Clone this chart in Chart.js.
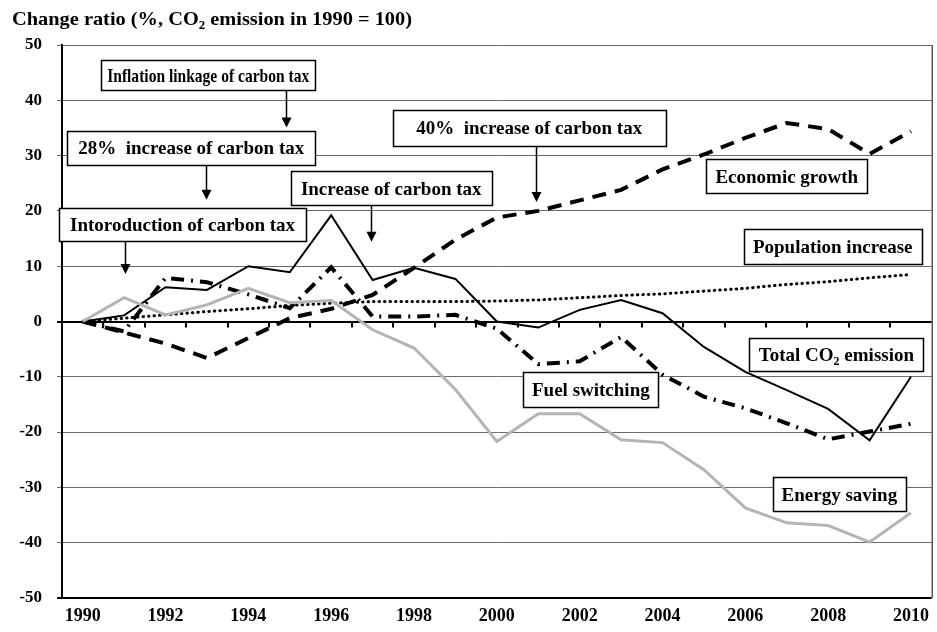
<!DOCTYPE html>
<html>
<head>
<meta charset="utf-8">
<script src="https://cdn.jsdelivr.net/npm/chart.js@4.4.1/dist/chart.umd.min.js"></script>
<style>
  html, body { margin: 0; padding: 0; background: #fff; }
  #chart { display: block; }
</style>
</head>
<body>
<canvas id="chart" width="937" height="632"></canvas>
<script>
// values (1990 = 0)
const years = ['1990', '1991', '1992', '1993', '1994', '1995', '1996', '1997', '1998', '1999', '2000',
    '2001', '2002', '2003', '2004', '2005', '2006', '2007', '2008', '2009', '2010'];
const totalCO2 = [0, 1.1, 6.2, 5.7, 10, 8.9, 19.2, 7.5, 9.7, 7.7, 0, -1.1, 2.1, 3.9, 1.5, -4.6, -9.1, -12.4, -15.8, -21.5, -10];
const economicGrowth = [0, -2, -4, -6.6, -3, 0.6, 2.3, 4.8, 9.7, 14.8, 18.8, 20, 21.9, 23.8, 27.5, 30.2, 33.2, 35.9, 34.8, 30.3, 34.4];
const populationIncrease = [0, 0.6, 1.2, 1.8, 2.3, 2.9, 3.3, 3.6, 3.6, 3.6, 3.7, 3.9, 4.3, 4.7, 5.0, 5.5, 6.0, 6.7, 7.2, 7.9, 8.5];
const fuelSwitching = [0, -1.8, 7.9, 7.1, 4.9, 2.4, 9.8, 0.9, 0.9, 1.2, -1.3, -7.7, -7.2, -2.8, -9.6, -13.6, -15.7, -18.4, -21.3, -19.9, -18.5];
const energySaving = [0, 4.3, 1.2, 3, 6, 3.4, 3.8, -1.5, -4.8, -12.3, -21.7, -16.7, -16.7, -21.4, -21.9, -26.8, -33.7, -36.4, -36.9, -39.9, -34.6];
const yTicks = { min: -50, max: 50, step: 10 };

const serif = "'Liberation Serif', 'Times New Roman', serif";

// labelled boxes: centre in (category index, value), size in px, optional arrow
const notes = [
    { parts: [{ t: 'Inflation linkage of carbon tax' }], cx: 3.03, cy: 44.5, w: 214, h: 30, arrow: { x: 4.9, to: 35.1 } },
    { parts: [{ t: '28%  increase of carbon tax' }], cx: 2.62, cy: 31.4, w: 248, h: 34, arrow: { x: 2.98, to: 22 } },
    { parts: [{ t: 'Intoroduction of carbon tax' }], cx: 2.41, cy: 17.6, w: 247, h: 33, arrow: { x: 1.01, to: 8.6 } },
    { parts: [{ t: 'Increase of carbon tax' }], cx: 7.45, cy: 24.1, w: 201, h: 34, arrow: { x: 6.96, to: 14.4 } },
    { parts: [{ t: '40%  increase of carbon tax' }], cx: 10.78, cy: 35, w: 273, h: 36, arrow: { x: 10.94, to: 21.6 } },
    { parts: [{ t: 'Economic growth' }], cx: 17.0, cy: 26.3, w: 161, h: 34 },
    { parts: [{ t: 'Population increase' }], cx: 18.11, cy: 13.6, w: 178, h: 35 },
    { parts: [{ t: 'Total CO' }, { t: '2', sub: true }, { t: ' emission' }], cx: 18.2, cy: -5.9, w: 174, h: 33 },
    { parts: [{ t: 'Fuel switching' }], cx: 12.27, cy: -12.3, w: 135, h: 35 },
    { parts: [{ t: 'Energy saving' }], cx: 18.27, cy: -31.2, w: 133, h: 34 },
];

function richWidth(ctx, parts, size) {
    let w = 0;
    parts.forEach(p => {
        ctx.font = `bold ${p.sub ? Math.round(size * 0.62) : size}px ${serif}`;
        w += ctx.measureText(p.t).width;
    });
    return w;
}

// draws text with subscripts; squeezed when too wide, or stretched to exactly `width` when fit is set
function drawRich(ctx, parts, x, y, size, width, align, fit) {
    const w = richWidth(ctx, parts, size);
    const sx = fit ? width / w : Math.min(1, width / w);
    ctx.save();
    ctx.translate(align === 'center' ? x - w * sx / 2 : x, y);
    ctx.scale(sx, 1);
    ctx.textAlign = 'left';
    ctx.textBaseline = 'alphabetic';
    ctx.fillStyle = '#000';
    let cur = 0;
    parts.forEach(p => {
        const s = p.sub ? Math.round(size * 0.62) : size;
        ctx.font = `bold ${s}px ${serif}`;
        ctx.fillText(p.t, cur, p.sub ? size * 0.22 : 0);
        cur += ctx.measureText(p.t).width;
    });
    ctx.restore();
}

const decorations = {
    id: 'decorations',
    afterDatasetsDraw(chart) {
        const { ctx, chartArea, scales: { x, y } } = chart;
        const step = (chartArea.right - chartArea.left) / years.length;

        // right frame line
        ctx.save();
        ctx.strokeStyle = '#000';
        ctx.lineWidth = 1;
        ctx.beginPath();
        ctx.moveTo(chartArea.right + 0.5, chartArea.top);
        ctx.lineTo(chartArea.right + 0.5, chartArea.bottom);
        ctx.stroke();

        // tick marks on the zero line between categories
        const y0 = y.getPixelForValue(0);
        ctx.lineWidth = 2;
        ctx.beginPath();
        for (let i = 1; i < years.length; i++) {
            const px = Math.round(x.getPixelForValue(i) - step / 2);
            ctx.moveTo(px, y0);
            ctx.lineTo(px, y0 + 6);
        }
        ctx.stroke();
        ctx.restore();

        // annotation boxes and arrows
        notes.forEach(n => {
            const cx = x.getPixelForValue(n.cx);
            const cy = y.getPixelForValue(n.cy);
            const left = Math.round(cx - n.w / 2) + 0.5;
            const top = Math.round(cy - n.h / 2) + 0.5;
            ctx.save();
            ctx.fillStyle = '#fff';
            ctx.strokeStyle = '#000';
            ctx.lineWidth = 1.5;
            ctx.fillRect(left, top, n.w, n.h);
            ctx.strokeRect(left, top, n.w, n.h);
            drawRich(ctx, n.parts, cx, cy + 6.5, 19, n.w - 12, 'center');

            if (n.arrow) {
                const ax = Math.round(x.getPixelForValue(n.arrow.x)) + 0.5;
                const tip = y.getPixelForValue(n.arrow.to);
                ctx.lineWidth = 1.5;
                ctx.beginPath();
                ctx.moveTo(ax, top + n.h);
                ctx.lineTo(ax, tip - 8);
                ctx.stroke();
                ctx.fillStyle = '#000';
                ctx.beginPath();
                ctx.moveTo(ax - 5, tip - 10);
                ctx.lineTo(ax + 5, tip - 10);
                ctx.lineTo(ax, tip);
                ctx.closePath();
                ctx.fill();
            }
            ctx.restore();
        });

        // axis title
        drawRich(ctx, [{ t: 'Change ratio (%, CO' }, { t: '2', sub: true }, { t: ' emission in 1990 = 100)' }],
            12, 25, 19, 400, 'left', true);
    }
};

const line = (data, extra) => Object.assign({
    data,
    borderColor: '#000',
    borderWidth: 2,
    pointRadius: 0,
    fill: false,
    tension: 0,
}, extra);

new Chart(document.getElementById('chart'), {
    type: 'line',
    data: {
        labels: years,
        datasets: [
            line(energySaving, { label: 'Energy saving', borderColor: '#b4b4b4', borderWidth: 3 }),
            line(populationIncrease, { label: 'Population increase', borderWidth: 3, borderDash: [0.5, 5], borderCapStyle: 'round' }),
            line(totalCO2, { label: 'Total CO2 emission', borderWidth: 2 }),
            line(economicGrowth, { label: 'Economic growth', borderWidth: 4, borderDash: [14, 9] }),
            line(fuelSwitching, { label: 'Fuel switching', borderWidth: 4, borderDash: [13, 7, 2, 7] }),
        ],
    },
    options: {
        responsive: false,
        animation: false,
        layout: { padding: { top: 45, left: 0, right: 1, bottom: 0 } },
        plugins: { legend: { display: false }, tooltip: { enabled: false } },
        scales: {
            x: {
                offset: true,
                grid: { display: false, drawTicks: false },
                border: { display: false },
                ticks: {
                    autoSkip: false,
                    maxRotation: 0,
                    color: '#000',
                    padding: 8,
                    font: { family: serif, size: 18, weight: 'bold' },
                    callback: (v, i) => (i % 2 === 0 ? years[i] : ''),
                },
                afterFit: s => { s.height = 34; },
            },
            y: {
                min: yTicks.min,
                max: yTicks.max,
                ticks: {
                    stepSize: yTicks.step,
                    color: '#000',
                    padding: 15,
                    font: { family: serif, size: 17, weight: 'bold' },
                },
                grid: {
                    color: c => (c.tick && (c.tick.value === 0 || c.tick.value === -50) ? '#000' : '#6a6a6a'),
                    lineWidth: c => (c.tick && (c.tick.value === 0 || c.tick.value === -50) ? 2 : 1),
                    tickLength: 5,
                },
                border: { color: '#000', width: 2 },
                afterFit: s => { s.width = 62; },
            },
        },
    },
    plugins: [decorations],
});
</script>
</body>
</html>
